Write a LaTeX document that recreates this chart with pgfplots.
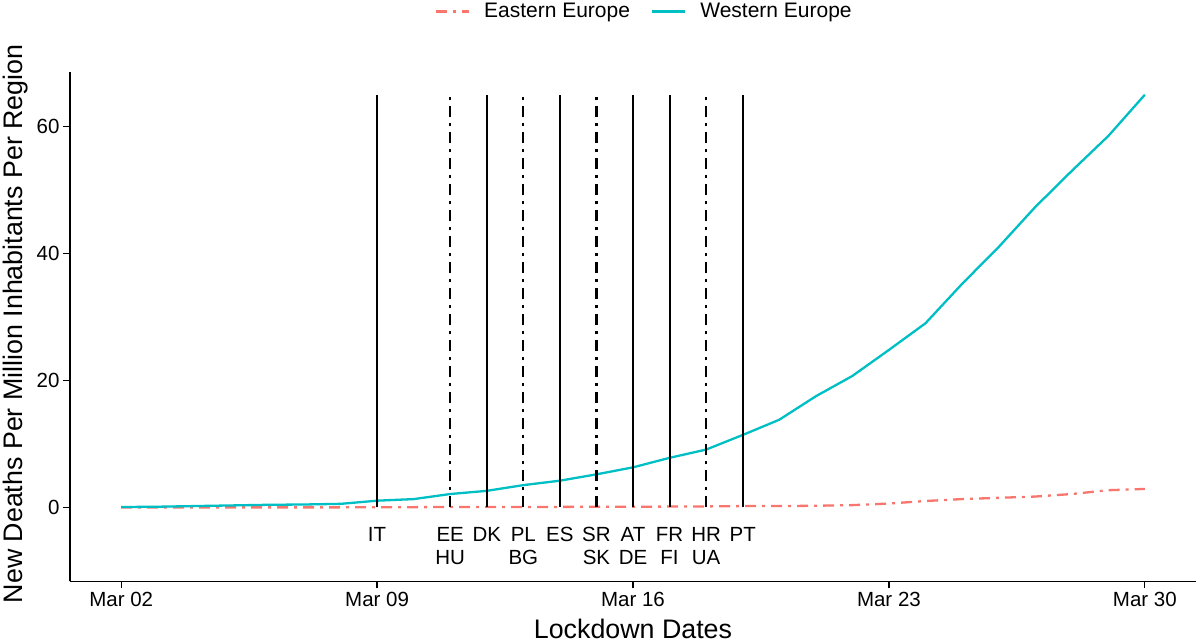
\documentclass[border=0pt]{standalone}
\usepackage{pgfplots}
\pgfplotsset{compat=1.18}
\usepackage{fontspec}
\setmainfont{Liberation Sans}
\definecolor{eastc}{HTML}{F8766D}
\definecolor{westc}{HTML}{00BFC4}
\newcommand{\tk}{\fontsize{20.5bp}{24bp}\selectfont}
\newcommand{\ttl}{\fontsize{26.8bp}{31bp}\selectfont}
\begin{document}
\begin{tikzpicture}
\begin{axis}[
  scale only axis,
  width=1126bp, height=509.7bp,
  xmin=-1.4, xmax=29.4,
  ymin=-11.65, ymax=68.65,
  axis x line*=bottom, axis y line*=left,
  axis line style={line width=1.4bp, black},
  tick align=outside,
  major tick length=7bp,
  tick style={line width=1.3bp, black},
  xtick={0,7,14,21,28},
  xticklabels={Mar 02,Mar 09,Mar 16,Mar 23,Mar 30},
  ytick={0,20,40,60},
  /pgf/number format/assume math mode=true,
  ticklabel style={font=\tk},
  xlabel={Lockdown Dates},
  ylabel={New Deaths Per Million Inhabitants Per Region},
  xlabel style={font=\ttl, at={(axis description cs:0.5,-0.0935)}, anchor=center},
  ylabel style={font=\ttl, at={(axis description cs:-0.048,0.505)}, anchor=center, rotate=0},
  legend style={draw=none, fill=none, at={(axis description cs:0.51,1.118)}, anchor=center,
    font=\fontsize{21bp}{25bp}\selectfont,
    /tikz/every odd column/.append style={column sep=12bp},
    /tikz/every even column/.append style={column sep=19bp}},
  legend columns=2,
  legend image code/.code={\draw[#1] (0bp,0bp) -- (33bp,0bp);},
  clip=false,
]
\addplot[eastc, line width=2.3bp, dash pattern=on 11bp off 6bp on 3bp off 6bp] coordinates {
(0,0)(1,0)(2,0)(3,0)(4,0)(5,0)(6,0)(7,0.02)(8,0.03)(9,0.05)(10,0.05)(11,0.05)(12,0.07)(13,0.1)(14,0.1)(15,0.12)(16,0.15)(17,0.2)(18,0.2)(19,0.25)(20,0.35)(21,0.6)(22,1.0)(23,1.3)(24,1.5)(25,1.7)(26,2.1)(27,2.7)(28,2.9)};
\addlegendentry{Eastern Europe}
\addplot[westc, line width=2.3bp] coordinates {
(0,0.05)(1,0.1)(2,0.2)(3,0.3)(4,0.4)(5,0.45)(6,0.55)(7,1.05)(8,1.3)(9,2.1)(10,2.6)(11,3.5)(12,4.2)(13,5.2)(14,6.3)(15,7.8)(16,9.1)(17,11.4)(18,13.8)(19,17.5)(20,20.7)(21,24.8)(22,29.0)(23,35.2)(24,41.0)(25,47.3)(26,53.0)(27,58.5)(28,65.0)};
\addlegendentry{Western Europe}
% lockdown lines
\addplot[black, line width=2.1bp, forget plot] coordinates {(7,0)(7,65)};
\addplot[black, line width=2.1bp, forget plot, dash pattern=on 11bp off 6bp on 3bp off 6bp] coordinates {(9,0)(9,65)};
\addplot[black, line width=2.1bp, forget plot] coordinates {(10,0)(10,65)};
\addplot[black, line width=2.1bp, forget plot, dash pattern=on 11bp off 6bp on 3bp off 6bp] coordinates {(11,0)(11,65)};
\addplot[black, line width=2.1bp, forget plot] coordinates {(12,0)(12,65)};
\addplot[black, line width=2.1bp, forget plot, dash pattern=on 11bp off 6bp on 3bp off 6bp] coordinates {(13,0)(13,65)};
\addplot[black, line width=2.1bp, forget plot] coordinates {(14,0)(14,65)};
\addplot[black, line width=2.1bp, forget plot] coordinates {(15,0)(15,65)};
\addplot[black, line width=2.1bp, forget plot, dash pattern=on 11bp off 6bp on 3bp off 6bp] coordinates {(16,0)(16,65)};
\addplot[black, line width=2.1bp, forget plot] coordinates {(17,0)(17,65)};
% labels
\foreach \xx/\aa/\bb in {7/IT/,9/EE/HU,10/DK/,11/PL/BG,12/ES/,13/SR/SK,14/AT/DE,15/FR/FI,16/HR/UA,17/PT/}{
  \edef\temp{\noexpand\node[font=\noexpand\tk, inner sep=0pt, anchor=center] at (axis cs:\xx,-4.2) {\aa};
  \noexpand\node[font=\noexpand\tk, inner sep=0pt, anchor=center] at (axis cs:\xx,-8.3) {\bb\strut};}
  \temp
}
\end{axis}
\pgfresetboundingbox
\useasboundingbox (-70bp,-62.7bp) rectangle (1130bp,581.3bp);
\end{tikzpicture}
\end{document}
